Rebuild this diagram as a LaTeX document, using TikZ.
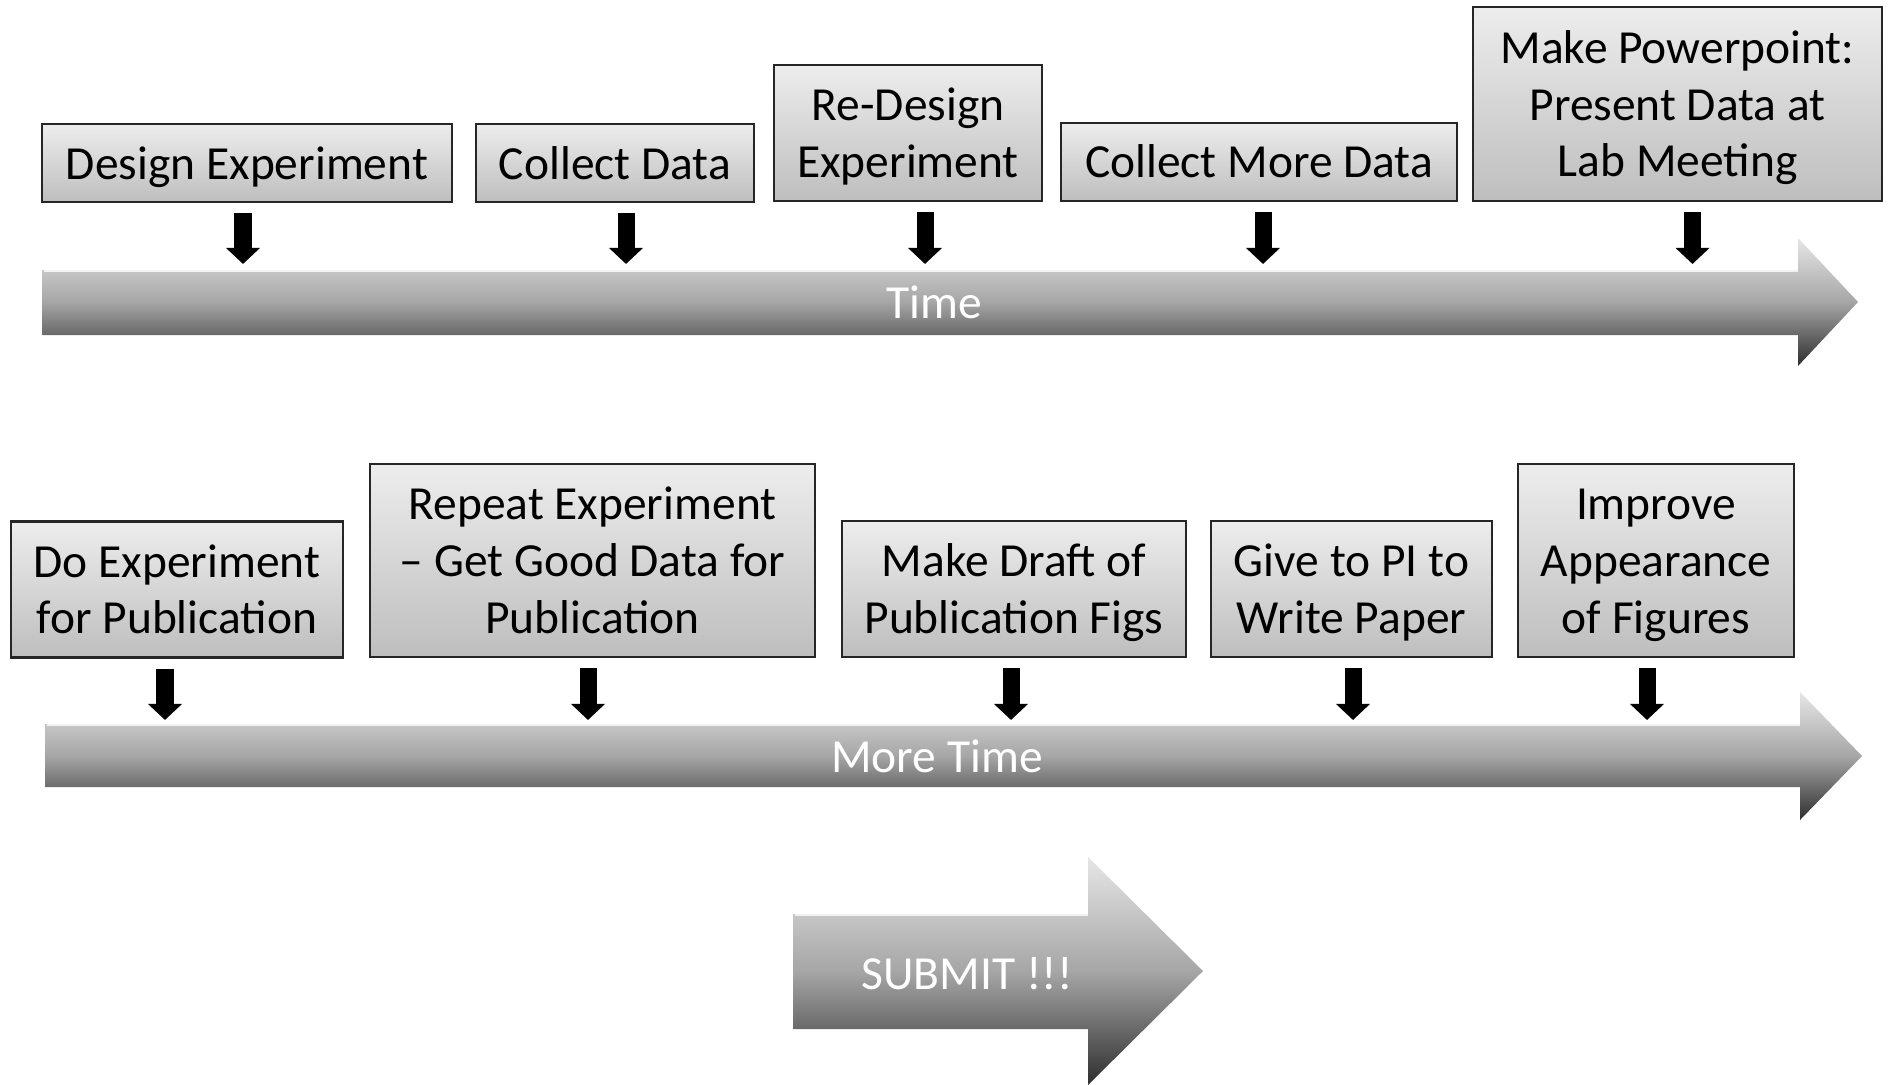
\documentclass[tikz,border=0pt]{standalone}
\usepackage{fontspec}
\setmainfont{Carlito}
\usetikzlibrary{arrows.meta,calc}
\definecolor{boxtop}{HTML}{EDEDED}
\definecolor{boxbot}{HTML}{BEBEBE}
\definecolor{arrtop}{HTML}{E6E6E6}
\definecolor{arrmid}{HTML}{A6A6A6}
\definecolor{arrbot}{HTML}{2E2E2E}
\definecolor{hilite}{HTML}{F2F2F2}
\newcommand\tstr{\rule{0pt}{12.6pt}}
\newcommand\bstr{\rule[-3.5pt]{0pt}{0pt}}
\begin{document}
\begin{tikzpicture}[x=0.01cm,y=-0.01cm,
  box/.style={draw=black!85, line width=0.6pt, top color=boxtop, bottom color=boxbot,
    inner sep=0pt, align=center, font=\fontsize{13.5}{16.1}\selectfont},
  blk/.style={line width=0.17cm, -{Triangle[width=0.33cm,length=0.16cm]}},
  bigarrow/.style={top color=arrtop, bottom color=arrbot, middle color=arrmid},
  hl/.style={draw=hilite, line width=0.6pt},
  wlabel/.style={text=white, inner sep=0pt, font=\fontsize{13.5}{16.1}\selectfont}]
\useasboundingbox (0,0) rectangle (1888,1085);

% ---- big arrows ----
\shade[bigarrow] (42,270) -- (1798,270) -- (1798,238) -- (1858,302) -- (1798,366) -- (1798,335) -- (42,335) -- cycle;
\draw[hl] (44,271) -- (1798,271);
\shade[bigarrow] (45,724) -- (1800,724) -- (1800,692) -- (1862,756) -- (1800,820) -- (1800,787) -- (45,787) -- cycle;
\draw[hl] (47,725) -- (1800,725);
\shade[bigarrow] (793,914) -- (1088,914) -- (1088,857) -- (1203,971) -- (1088,1085) -- (1088,1029) -- (793,1029) -- cycle;
\draw[hl] (795,915) -- (1088,915);

\coordinate (t1) at (0,270);
\coordinate (t2) at (0,724);
\node[wlabel] (time) at (934,302) {Time};
\node[wlabel] (more) at (937,756) {More Time};
\node[wlabel] (submit) at (967,974) {SUBMIT !!!};

% ---- top row boxes ----
\node[box, minimum width=4.10cm, minimum height=0.78cm] (de) at (247,163) {\tstr Design Experiment\bstr};
\node[box, minimum width=2.78cm, minimum height=0.78cm] (cd) at (615,163) {\tstr Collect Data\bstr};
\node[box, minimum width=2.67cm, minimum height=1.36cm] (rd) at (908,133) {\tstr Re-Design\\Experiment\bstr};
\node[box, minimum width=3.96cm, minimum height=0.78cm] (cm) at (1259,162) {\tstr Collect More Data\bstr};
\node[box, minimum width=4.08cm, minimum height=1.94cm] (mp) at (1677.5,104) {\tstr Make Powerpoint:\\Present Data at\\Lab Meeting\bstr};

% ---- bottom row boxes ----
\node[box, minimum width=3.32cm, minimum height=1.36cm] (dp) at (177,589.5) {\tstr Do Experiment\\for Publication\bstr};
\node[box, minimum width=4.45cm, minimum height=1.93cm] (re) at (592.5,560.5) {\tstr Repeat Experiment\\– Get Good Data for\\Publication\bstr};
\node[box, minimum width=3.44cm, minimum height=1.36cm] (md) at (1014,589) {\tstr Make Draft of\\Publication Figs\bstr};
\node[box, minimum width=2.81cm, minimum height=1.36cm] (pi) at (1351.5,589) {\tstr Give to PI to\\Write Paper\bstr};
\node[box, minimum width=2.76cm, minimum height=1.93cm] (im) at (1656,560.5) {\tstr Improve\\Appearance\\of Figures\bstr};

% ---- small arrows, top ----
\draw[blk] ($(de.south)+(-4,10)$) -- ($(de.south |- t1)+(-4,-6)$);
\draw[blk] ($(cd.south)+(11,10)$) -- ($(cd.south |- t1)+(11,-6)$);
\draw[blk] ($(rd.south)+(17,10)$) -- ($(rd.south |- t1)+(17,-6)$);
\draw[blk] ($(cm.south)+(4,10)$) -- ($(cm.south |- t1)+(4,-6)$);
\draw[blk] ($(mp.south)+(15,10)$) -- ($(mp.south |- t1)+(15,-6)$);

% ---- small arrows, bottom ----
\draw[blk] ($(dp.south)+(-12,10)$) -- ($(dp.south |- t2)+(-12,-4)$);
\draw[blk] ($(re.south)+(-4.5,10)$) -- ($(re.south |- t2)+(-4.5,-4)$);
\draw[blk] ($(md.south)+(-3,10)$) -- ($(md.south |- t2)+(-3,-4)$);
\draw[blk] ($(pi.south)+(1.5,10)$) -- ($(pi.south |- t2)+(1.5,-4)$);
\draw[blk] ($(im.south)+(-9,10)$) -- ($(im.south |- t2)+(-9,-4)$);
\end{tikzpicture}
\end{document}
